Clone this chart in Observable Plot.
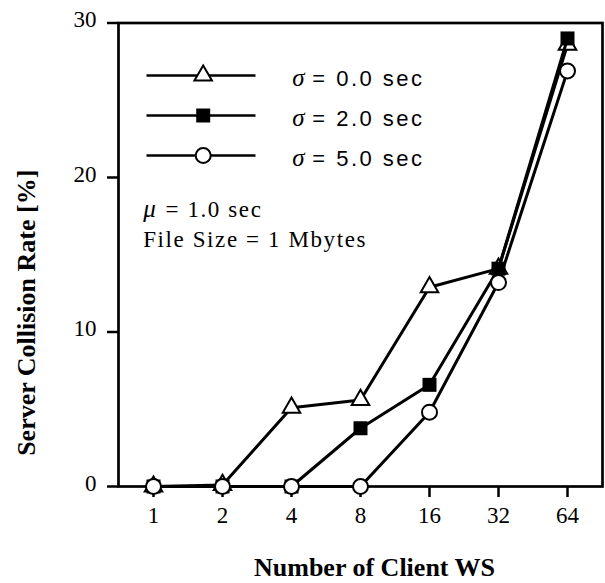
<!DOCTYPE html>
<html>
<head>
<meta charset="utf-8">
<script src="https://cdn.jsdelivr.net/npm/d3@7"></script>
<script src="https://cdn.jsdelivr.net/npm/@observablehq/plot@0.6"></script>
<style>
  html, body { margin: 0; padding: 0; background: #fff; }
</style>
</head>
<body>
<div id="chart"></div>
<script>
// ---- data ----
const clients = [1, 2, 4, 8, 16, 32, 64];
const sigma0 = [0, 0.1, 5.1, 5.6, 12.9, 14.1, 28.6];
const sigma2 = [0, 0, 0, 3.77, 6.58, 14.1, 29.0];
const sigma5 = [0, 0, 0, 0, 4.81, 13.2, 26.9];
const seriesNames = ["0.0", "2.0", "5.0"];
const yTicks = [0, 10, 20, 30];
const xTitle = "Number of Client WS";
const yTitle = "Server Collision Rate [%]";
const note1 = "= 1.0 sec";
const note2 = "File Size = 1 Mbytes";

const seriesValues = [sigma0, sigma2, sigma5];
const rows = seriesValues.map((vals, s) =>
  clients.map((c, i) => ({ series: s, x: c, y: vals[i] }))
);

const serif = "'Liberation Serif', 'Times New Roman', serif";
const sans = "'Liberation Sans', Arial, sans-serif";

const markerStyle = (s) => s === 1
  ? { symbol: "square", r: 7.9, fill: "black", stroke: "none" }
  : s === 0
    ? { symbol: "triangle", r: 6.5, fill: "white", stroke: "black", strokeWidth: 2 }
    : { symbol: "circle", r: 7.5, fill: "white", stroke: "black", strokeWidth: 2 };

const legendLine = { draw(ctx) { ctx.moveTo(-54.5, 0); ctx.lineTo(54.5, 0); } };

const marks = [];
marks.push(Plot.frame({ stroke: "black", strokeWidth: 2.7 }));
marks.push(Plot.axisY({ ticks: yTicks, tickSize: 11, strokeWidth: 2.5, tickFormat: () => "", label: null }));
marks.push(Plot.axisY({ ticks: yTicks, tickSize: 0, tickPadding: 22, dy: -3, fontSize: 23, fontFamily: serif, label: null }));
marks.push(Plot.axisX({ tickSize: 11, tickPadding: 9, strokeWidth: 2.5, fontSize: 23, fontFamily: serif, label: null, tickFormat: d => String(d) }));

rows.forEach((r, s) => {
  marks.push(Plot.line(r, { x: "x", y: "y", stroke: "black", strokeWidth: 3 }));
  marks.push(Plot.dot(r, { x: "x", y: "y", ...markerStyle(s) }));
});

// legend (inside plot)
seriesNames.forEach((name, s) => {
  const dyRow = 52.5 + s * 40;
  marks.push(Plot.dot([{}], { frameAnchor: "top-left", dx: 82.5, dy: dyRow, symbol: legendLine, stroke: "black", strokeWidth: 2.7, r: 5 }));
  marks.push(Plot.dot([{}], { frameAnchor: "top-left", dx: 84.7, dy: dyRow, ...markerStyle(s) }));
  marks.push(Plot.text(["σ"], { frameAnchor: "top-left", dx: 173.7, dy: dyRow + 2.5, textAnchor: "start", lineAnchor: "middle", fontSize: 25, fontStyle: "italic", fontFamily: serif }));
  marks.push(Plot.text([`= ${name} sec`], { frameAnchor: "top-left", dx: 193.7, dy: dyRow + 3.5, textAnchor: "start", lineAnchor: "middle", fontSize: 22, fontFamily: sans }));
});

// annotations
marks.push(Plot.text(["μ"], { frameAnchor: "top-left", dx: 24.7, dy: 185.5, textAnchor: "start", lineAnchor: "middle", fontSize: 25, fontStyle: "italic", fontFamily: serif }));
marks.push(Plot.text([note1], { frameAnchor: "top-left", dx: 47, dy: 186.8, textAnchor: "start", lineAnchor: "middle", fontSize: 23, fontFamily: serif }));
marks.push(Plot.text([note2], { frameAnchor: "top-left", dx: 24.7, dy: 216.8, textAnchor: "start", lineAnchor: "middle", fontSize: 23, fontFamily: serif }));

// axis titles
marks.push(Plot.text([xTitle], { frameAnchor: "bottom", dx: 14, dy: 81, textAnchor: "middle", lineAnchor: "middle", fontSize: 26, fontWeight: "bold", fontFamily: serif }));
marks.push(Plot.text([yTitle], { frameAnchor: "left", dx: -92, dy: 58, rotate: -90, textAnchor: "middle", lineAnchor: "middle", fontSize: 26, fontWeight: "bold", fontFamily: serif }));

const chart = Plot.plot({
  width: 605,
  height: 583,
  marginLeft: 118,
  marginRight: 3,
  marginTop: 22.5,
  marginBottom: 97,
  style: { background: "white", fontFamily: serif, color: "black" },
  x: { type: "point", domain: clients, padding: 0.5 },
  y: { domain: [0, 30] },
  marks
});

// letter spacing to match the reference typesetting
chart.querySelectorAll("text").forEach(t => {
  const g = t.closest("g");
  const ff = (g && g.getAttribute("font-family")) || "";
  const s = t.textContent;
  if (ff.includes("Liberation Sans") && s.startsWith("= ")) t.style.letterSpacing = "2.5px";
  else if (s === note1 || s === note2) t.style.letterSpacing = "1.6px";
});
document.getElementById("chart").appendChild(chart);
</script>
</body>
</html>
